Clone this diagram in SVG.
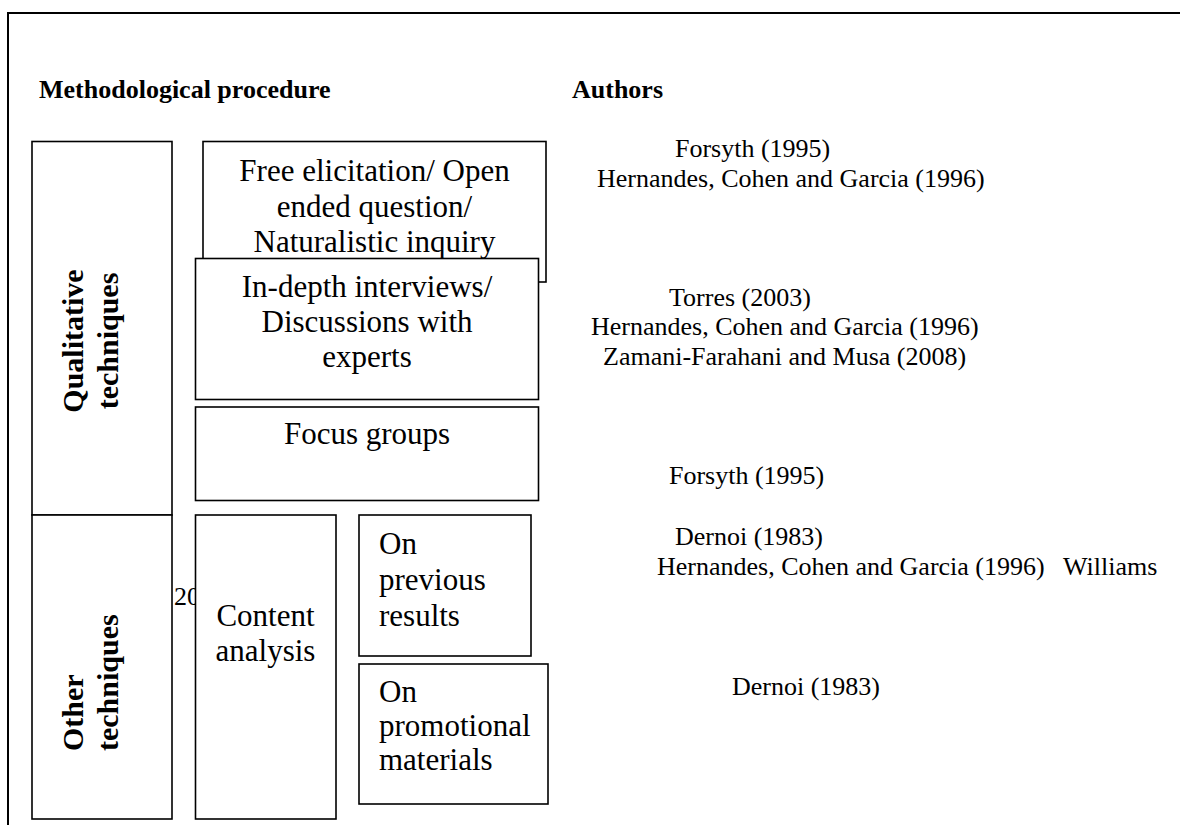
<svg xmlns="http://www.w3.org/2000/svg" width="1180" height="825" viewBox="0 0 1180 825">
  <style>
    .box { fill: #ffffff; stroke: #000000; stroke-width: 1.6; }
    .frame { fill: none; stroke: #000000; stroke-width: 2; }
    .hdr { font-family: "Liberation Serif", "Times New Roman", serif; font-weight: bold; font-size: 26px; fill: #000; }
    .vt { font-family: "Liberation Serif", "Times New Roman", serif; font-weight: bold; font-size: 30px; fill: #000; }
    .bt { font-family: "Liberation Serif", "Times New Roman", serif; font-size: 31px; fill: #000; }
    .au { font-family: "Liberation Serif", "Times New Roman", serif; font-size: 26px; fill: #000; }
    .mid { text-anchor: middle; }
  </style>
  <rect x="0" y="0" width="1180" height="825" fill="#ffffff"/>
  <g id="frame">
    <polyline class="frame" points="8,826 8,13 1181,13"/>
  </g>
  <g id="headers">
    <text class="hdr" x="39" y="98">Methodological procedure</text>
    <text class="hdr" x="572" y="98">Authors</text>
  </g>
  <g id="connectors"></g>
  <g id="qualitative">
    <rect class="box" x="32" y="141.5" width="140" height="373.5"/>
    <text class="vt mid" transform="translate(83,341) rotate(-90)">Qualitative</text>
    <text class="vt mid" transform="translate(118,341) rotate(-90)">techniques</text>
  </g>
  <g id="other">
    <rect class="box" x="32" y="515" width="140" height="304"/>
    <text class="vt" transform="translate(83,751) rotate(-90)">Other</text>
    <text class="vt" transform="translate(118,751) rotate(-90)">techniques</text>
  </g>
  <g id="free-elicitation">
    <rect class="box" x="203" y="141.5" width="343" height="140.5"/>
    <text class="bt mid" x="374.5" y="181">Free elicitation/ Open</text>
    <text class="bt mid" x="374.5" y="217">ended question/</text>
    <text class="bt mid" x="374.5" y="252">Naturalistic inquiry</text>
  </g>
  <g id="in-depth">
    <rect class="box" x="195.5" y="258.5" width="343" height="141"/>
    <text class="bt mid" x="367" y="297">In-depth interviews/</text>
    <text class="bt mid" x="367" y="332">Discussions with</text>
    <text class="bt mid" x="367" y="367">experts</text>
  </g>
  <g id="focus-groups">
    <rect class="box" x="195.5" y="407" width="343" height="93.5"/>
    <text class="bt mid" x="367" y="444">Focus groups</text>
  </g>
  <g id="stray-20">
    <text class="au" x="174" y="605">20</text>
  </g>
  <g id="content-analysis">
    <rect class="box" x="195.5" y="515" width="140.5" height="304"/>
    <text class="bt mid" x="265.5" y="626">Content</text>
    <text class="bt mid" x="265.5" y="661">analysis</text>
  </g>
  <g id="previous-results">
    <rect class="box" x="359" y="515" width="172" height="141"/>
    <text class="bt" x="379" y="554">On</text>
    <text class="bt" x="379" y="590">previous</text>
    <text class="bt" x="379" y="626">results</text>
  </g>
  <g id="promotional">
    <rect class="box" x="359" y="664" width="189" height="140"/>
    <text class="bt" x="379" y="702">On</text>
    <text class="bt" x="379" y="736">promotional</text>
    <text class="bt" x="379" y="770">materials</text>
  </g>
  <g id="authors">
    <text class="au" x="675" y="157">Forsyth (1995)</text>
    <text class="au" x="597" y="187">Hernandes, Cohen and Garcia (1996)</text>
    <text class="au" x="669" y="306">Torres (2003)</text>
    <text class="au" x="591" y="335">Hernandes, Cohen and Garcia (1996)</text>
    <text class="au" x="603" y="365">Zamani-Farahani and Musa (2008)</text>
    <text class="au" x="669" y="484">Forsyth (1995)</text>
    <text class="au" x="675" y="545">Dernoi (1983)</text>
    <text class="au" x="657" y="575">Hernandes, Cohen and Garcia (1996)<tspan x="1063">Williams</tspan></text>
    <text class="au" x="732" y="695">Dernoi (1983)</text>
  </g>
</svg>
